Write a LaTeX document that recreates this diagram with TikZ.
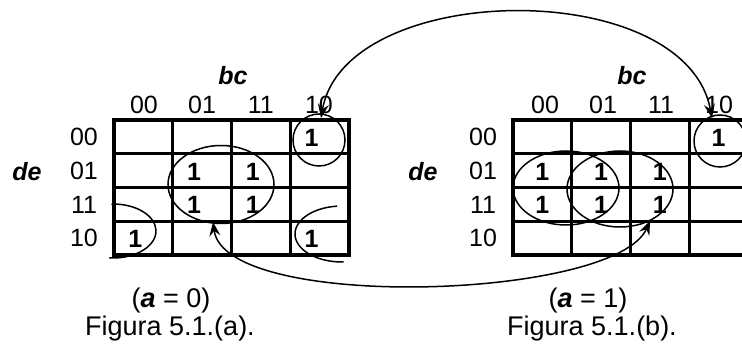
\documentclass[tikz,border=0pt]{standalone}
\usepackage{fontspec}
\setmainfont{Liberation Sans}
\usetikzlibrary{arrows.meta}
\begin{document}
\begin{tikzpicture}[x=1pt,y=-1pt,
  gridline/.style={line width=3.2pt},
  loopline/.style={line width=1.5pt},
  link/.style={line width=1.5pt,{Stealth[length=14pt,width=11pt,inset=5pt]}-{Stealth[length=14pt,width=11pt,inset=5pt]}},
  one/.style={font=\fontsize{25}{29}\selectfont\bfseries, inner sep=0pt},
  lab/.style={font=\fontsize{25}{29}\selectfont, inner sep=0pt},
  var/.style={font=\fontsize{25}{29}\selectfont\bfseries\itshape, inner sep=0pt},
  captext/.style={font=\fontsize{27}{32}\selectfont, inner sep=0pt}]
\useasboundingbox (0,0) rectangle (742,347);
\clip (0,0) rectangle (742,347);

% ---------- left map (a = 0) ----------
\draw[gridline] (114,120) rectangle (349,255);
\foreach \i in {1,2,3} {
  \draw[gridline] (114+58.75*\i,120) -- (114+58.75*\i,255);
  \draw[gridline] (114,120+33.75*\i) -- (349,120+33.75*\i);
}
\node[var] (lbc) at (233,76) {bc};
\node[lab] (lc00) at (144,105) {00};
\node[lab] (lc01) at (202.1,105) {01};
\node[lab] (lc11) at (260.9,105) {11};
\node[lab] (lc10) at (319,105) {10};
\node[var] (lde) at (27,172) {de};
\node[lab] (lr00) at (84,137) {00};
\node[lab] (lr01) at (84,171) {01};
\node[lab] (lr11) at (84,204.5) {11};
\node[lab] (lr10) at (84,238) {10};
\node[one] (l0010) at (311.6,138) {1};
\node[one] (l0101) at (194.1,171.5) {1};
\node[one] (l0111) at (252.9,171.5) {1};
\node[one] (l1101) at (194.1,205) {1};
\node[one] (l1111) at (252.9,205) {1};
\node[one] (l1000) at (135.4,239) {1};
\node[one] (l1010) at (311.6,239) {1};
\draw[loopline] (319,140) ellipse [x radius=26, y radius=26];
\draw[loopline] (221,184.5) ellipse [x radius=53, y radius=39];
\draw[loopline] (113,231) ++(-92:43 and 27) arc[start angle=-92, end angle=95, x radius=43, y radius=27];
\draw[loopline] (342,234) ++(-96:47 and 28) arc[start angle=-96, end angle=-272, x radius=47, y radius=28];
\node[captext] (lsub) at (171,301) {(\textbf{\textit{a}} = 0)};
\node[captext] (lfig) at (170,329) {Figura 5.1.(a).};

% ---------- right map (a = 1) ----------
\draw[gridline] (513,120) rectangle (748,255);
\foreach \i in {1,2,3} {
  \draw[gridline] (513+58.75*\i,120) -- (513+58.75*\i,255);
  \draw[gridline] (513,120+33.75*\i) -- (748,120+33.75*\i);
}
\node[var] (rbc) at (632,76) {bc};
\node[lab] (rc00) at (545,105) {00};
\node[lab] (rc01) at (603,105) {01};
\node[lab] (rc11) at (661,105) {11};
\node[lab] (rc10) at (719,105) {10};
\node[var] (rde) at (423,172) {de};
\node[lab] (rr00) at (483,137) {00};
\node[lab] (rr01) at (483,171) {01};
\node[lab] (rr11) at (483,204.5) {11};
\node[lab] (rr10) at (483,238) {10};
\node[one] (r0010) at (718.6,138) {1};
\node[one] (r0100) at (542.4,171.5) {1};
\node[one] (r0101) at (601.1,171.5) {1};
\node[one] (r0111) at (659.9,171.5) {1};
\node[one] (r1100) at (542.4,205) {1};
\node[one] (r1101) at (601.1,205) {1};
\node[one] (r1111) at (659.9,205) {1};
\draw[loopline] (720,141) ellipse [x radius=26, y radius=26];
\draw[loopline] (566,188) ellipse [x radius=53, y radius=37];
\draw[loopline] (620,189) ellipse [x radius=53, y radius=38];
\node[captext] (rsub) at (588,301) {(\textbf{\textit{a}} = 1)};
\node[captext] (rfig) at (592,329) {Figura 5.1.(b).};

% ---------- connectors ----------
\coordinate (ltop) at (321,118);
\coordinate (rtop) at (712,118);
\coordinate (lbot) at (213,222);
\coordinate (rbot) at (650,221);
\draw[link] (ltop) .. controls (345,-20) and (685,-25) .. (rtop);
\draw[link] (lbot) .. controls (225,312) and (615,300) .. (rbot);
\end{tikzpicture}
\end{document}
